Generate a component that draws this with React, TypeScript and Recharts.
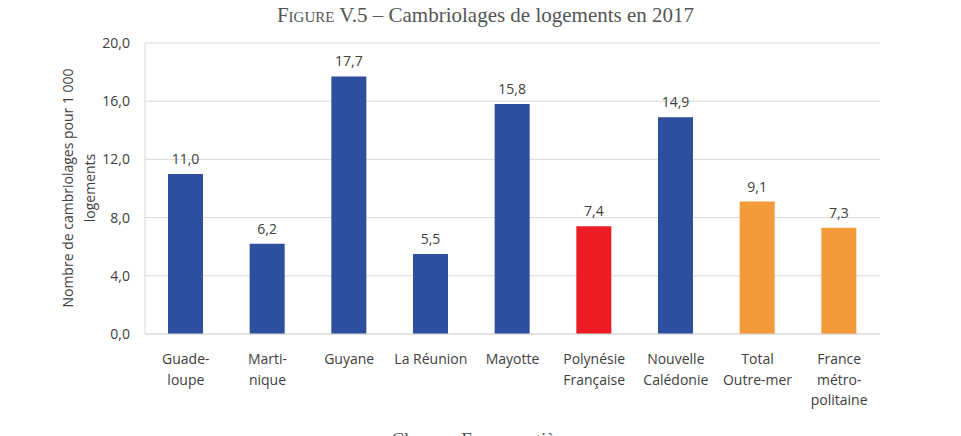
import { BarChart, Bar, XAxis, YAxis, CartesianGrid, Cell, LabelList } from "recharts";

const categories = [
  "Guade-|loupe",
  "Marti-|nique",
  "Guyane",
  "La Réunion",
  "Mayotte",
  "Polynésie|Française",
  "Nouvelle|Calédonie",
  "Total|Outre-mer",
  "France|métro-|politaine",
];
const values = [11.0, 6.2, 17.7, 5.5, 15.8, 7.4, 14.9, 9.1, 7.3];
const colors = ["#2E4F9E", "#2E4F9E", "#2E4F9E", "#2E4F9E", "#2E4F9E", "#ED1C24", "#2E4F9E", "#F39A3A", "#F39A3A"];
const yTicks = [0, 4, 8, 12, 16, 20];

const data = categories.map((c, i) => ({ name: c, value: values[i] }));

const FONT = "'Open Sans', 'Noto Sans', sans-serif";
const SERIF = "'Liberation Serif', 'DejaVu Serif', serif";
const TEXT = "#404040";
const fmt = (v: number) => v.toFixed(1).replace(".", ",");

const CategoryTick = ({ x, y, payload }: any) => {
  const lines = String(payload.value).split("|");
  return (
    <text x={x} y={y} textAnchor="middle" fill={TEXT} fontSize={14} fontFamily={FONT}>
      {lines.map((l, i) => (
        <tspan key={i} x={x} dy={i === 0 ? 22 : 20.5}>{l}</tspan>
      ))}
    </text>
  );
};

export default function App() {
  return (
    <div style={{ position: "absolute", left: 0, top: 0, width: 961, height: 436, background: "#fff", overflow: "hidden" }}>
      <div
        style={{
          position: "absolute", left: 0, width: 961, top: 3, textAlign: "center",
          fontFamily: SERIF, fontSize: 21, color: "#555", paddingLeft: 10, boxSizing: "border-box",
        }}
      >
        <span style={{ fontVariant: "small-caps" }}>Figure</span> V.5 – Cambriolages de logements en 2017
      </div>
      <div
        style={{
          position: "absolute", left: 79, top: 188, width: 0, height: 0,
          transform: "rotate(-90deg)",
        }}
      >
        <div
          style={{
            position: "absolute", left: -150, top: -22, width: 300, textAlign: "center",
            fontFamily: FONT, fontSize: 14, color: TEXT, lineHeight: "22px", whiteSpace: "nowrap",
          }}
        >
          Nombre de cambriolages pour 1 000
          <br />
          logements
        </div>
      </div>
      <BarChart
        width={961}
        height={436}
        data={data}
        margin={{ top: 43, right: 81, bottom: 12, left: 85 }}
        barCategoryGap="0%"
      >
        <CartesianGrid vertical={false} stroke="#D9D9D9" />
        <YAxis
          width={60}
          domain={[0, 20]}
          ticks={yTicks}
          tickFormatter={fmt}
          axisLine={{ stroke: "#D9D9D9" }}
          tickLine={false}
          tickSize={0}
          tickMargin={15}
          tick={{ fill: TEXT, fontSize: 14, fontFamily: FONT }}
        />
        <XAxis
          dataKey="name"
          height={90}
          interval={0}
          axisLine={{ stroke: "#D9D9D9" }}
          tickLine={false}
          tick={<CategoryTick />}
        />
        <Bar dataKey="value" barSize={35} isAnimationActive={false}>
          {data.map((_, i) => (
            <Cell key={i} fill={colors[i]} />
          ))}
          <LabelList
            dataKey="value"
            position="top"
            offset={10}
            formatter={(v: any) => fmt(Number(v))}
            fill={TEXT}
            fontSize={14}
            fontFamily={FONT}
          />
        </Bar>
      </BarChart>
      <div
        style={{
          position: "absolute", left: 0, width: 961, top: 429, textAlign: "center",
          fontFamily: SERIF, fontSize: 19, color: "#555",
        }}
      >
        Champ : France entière
      </div>
    </div>
  );
}
